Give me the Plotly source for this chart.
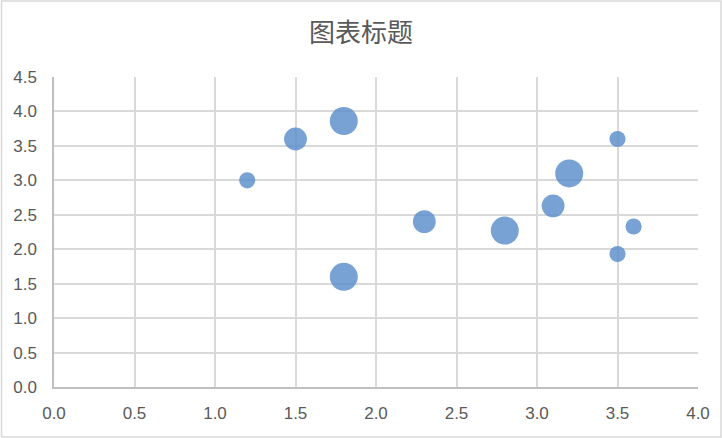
import plotly.graph_objects as go

x_vals = [1.2, 1.5, 1.8, 1.8, 2.3, 2.8, 3.1, 3.2, 3.5, 3.6, 3.5]
y_vals = [3.0, 3.6, 3.86, 1.6, 2.4, 2.27, 2.63, 3.1, 3.6, 2.33, 1.93]
bubble_sizes = [1, 2, 3, 3, 2, 3, 2, 3, 1, 1, 1]

x_ticks = [0, 0.5, 1.0, 1.5, 2.0, 2.5, 3.0, 3.5, 4.0]
y_ticks = [0, 0.5, 1.0, 1.5, 2.0, 2.5, 3.0, 3.5, 4.0, 4.5]
title_text = "图表标题"

W, H = 722, 438
ml, mr, mt, mb = 53.5, 24, 77, 51
pw = W - ml - mr
ph = H - mt - mb

fig = go.Figure()
fig.add_trace(go.Scatter(
    x=x_vals, y=y_vals, mode="markers",
    marker=dict(
        size=bubble_sizes, sizemode="area",
        sizeref=2.0 * max(bubble_sizes) / (28 ** 2),
        color="rgba(86,137,201,0.8)",
        opacity=1,
        line=dict(width=0),
    ),
    hoverinfo="x+y",
    showlegend=False,
))

axis_font = dict(family="Liberation Sans, Arial, sans-serif", size=17, color="#595959")

fig.update_layout(
    width=W, height=H,
    margin=dict(l=ml, r=mr, t=mt, b=mb, pad=0),
    paper_bgcolor="white", plot_bgcolor="white",
    title=dict(
        text=title_text, x=0.5, xanchor="center", xref="container",
        y=1 - 33 / H, yanchor="middle",
        font=dict(family="Noto Sans CJK SC, sans-serif", size=26, color="#595959"),
    ),
    xaxis=dict(
        range=[0, 4], tickvals=x_ticks, ticktext=[f"{v:.1f}" for v in x_ticks],
        showgrid=True, gridcolor="#d9d9d9", gridwidth=1.5,
        showline=True, linecolor="#bfbfbf", linewidth=1.5,
        zeroline=False, ticks="", tickfont=axis_font,
        ticklabelstandoff=10, fixedrange=True,
    ),
    yaxis=dict(
        range=[0, 4.5], tickvals=y_ticks, ticktext=[f"{v:.1f}" for v in y_ticks],
        showgrid=True, gridcolor="#d9d9d9", gridwidth=1.5,
        showline=True, linecolor="#bfbfbf", linewidth=1.5,
        zeroline=False, ticks="", tickfont=axis_font,
        ticklabelstandoff=12, fixedrange=True,
    ),
    shapes=[dict(
        type="rect", xref="paper", yref="paper",
        x0=(1 - ml) / pw, x1=(W - 1 - ml) / pw,
        y0=-(mb - 1) / ph, y1=1 + (mt - 1) / ph,
        line=dict(color="#d9d9d9", width=1.5), fillcolor="rgba(0,0,0,0)",
        layer="below",
    )],
)

fig.write_html("out.html", config={"displayModeBar": False},
               post_script="document.body.style.margin='0';")
